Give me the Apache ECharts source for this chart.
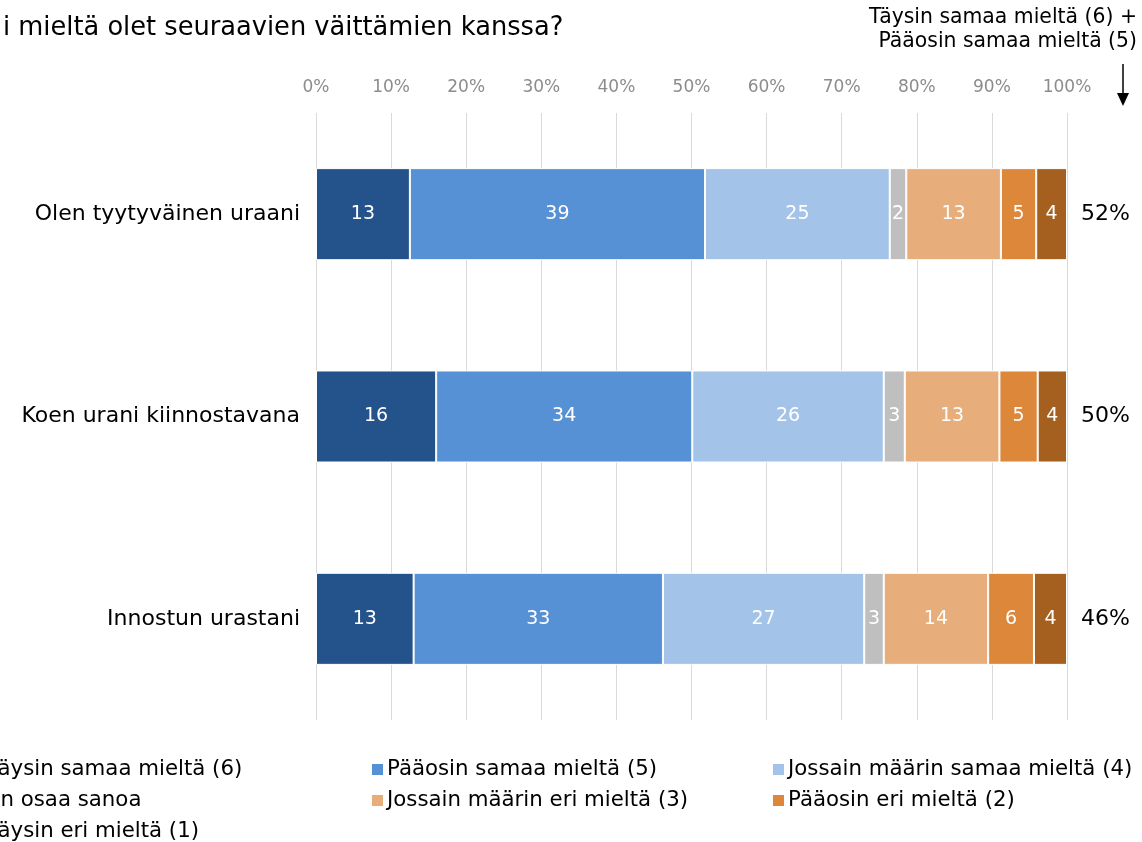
<!DOCTYPE html>
<html>
<head>
<meta charset="utf-8">
<script src="https://cdn.jsdelivr.net/npm/echarts@6/dist/echarts.min.js"></script>
<style>html,body{margin:0;padding:0;background:#fff;}#c{width:1142px;height:842px;}</style>
</head>
<body>
<div id="c"></div>
<script>
const categories = ['Olen tyytyväinen uraani', 'Koen urani kiinnostavana', 'Innostun urastani'];
const seriesNames = ['Täysin samaa mieltä (6)', 'Pääosin samaa mieltä (5)', 'Jossain määrin samaa mieltä (4)', 'En osaa sanoa', 'Jossain määrin eri mieltä (3)', 'Pääosin eri mieltä (2)', 'Täysin eri mieltä (1)'];
const taysinSamaa = [12.5, 16.0, 13.0];
const paaosinSamaa = [39.3, 34.1, 33.2];
const jossainSamaa = [24.6, 25.5, 26.8];
const enOsaa = [2.2, 2.8, 2.6];
const jossainEri = [12.6, 12.6, 13.9];
const paaosinEri = [4.7, 5.1, 6.1];
const taysinEri = [4.1, 3.9, 4.4];
const xTicks = [0, 10, 20, 30, 40, 50, 60, 70, 80, 90, 100];
const colors = ['#24528A', '#5690D5', '#A3C3E8', '#BFBFBF', '#E7AD7A', '#DC8739', '#A55F1E'];
const titleText = 'i mieltä olet seuraavien väittämien kanssa?';
const noteText = 'Täysin samaa mieltä (6) +\nPääosin samaa mieltä (5)';

const allData = [taysinSamaa, paaosinSamaa, jossainSamaa, enOsaa, jossainEri, paaosinEri, taysinEri];
const FONT = 'DejaVu Sans';

const series = allData.map((d, i) => ({
  name: seriesNames[i],
  type: 'bar',
  stack: 'total',
  barWidth: '45.5%',
  data: d,
  itemStyle: { color: colors[i], borderColor: '#ffffff', borderWidth: 1 },
  label: {
    show: true,
    position: 'inside',
    color: '#ffffff',
    fontFamily: FONT,
    fontSize: 19,
    formatter: p => String(Math.round(p.value))
  },
  emphasis: { disabled: true },
  silent: true
}));

// outside labels: sum of the two top categories
series.push({
  name: 'sumLabel',
  type: 'bar',
  stack: 'total',
  data: taysinSamaa.map(() => 0),
  itemStyle: { color: 'transparent' },
  label: {
    show: true,
    position: 'right',
    distance: 14,
    color: '#000000',
    fontFamily: FONT,
    fontSize: 22,
    formatter: p => Math.round(taysinSamaa[p.dataIndex] + paaosinSamaa[p.dataIndex]) + '%'
  },
  silent: true
});

const legendBase = {
  orient: 'vertical',
  itemWidth: 13,
  itemHeight: 13,
  itemGap: 10,
  icon: 'rect',
  top: 759,
  height: 100,
  padding: 0,
  textStyle: { fontFamily: FONT, fontSize: 21.3, color: '#000', lineHeight: 21, padding: [0, 0, 0, -2] },
  selectedMode: false
};

const chart = echarts.init(document.getElementById('c'));
chart.setOption({
  animation: false,
  color: colors,
  title: {
    text: titleText,
    left: -2,
    top: 10,
    textStyle: { fontFamily: FONT, fontSize: 25.7, fontWeight: 'normal', color: '#000' }
  },
  graphic: [
    {
      type: 'text',
      x: 1137, y: 6,
      style: { text: noteText, fontFamily: FONT, fontSize: 20.4, lineHeight: 24, fill: '#000', align: 'right' }
    },
    { type: 'line', shape: { x1: 1123, y1: 64, x2: 1123, y2: 96 }, style: { stroke: '#000', lineWidth: 1.5 } },
    { type: 'polygon', shape: { points: [[1117, 93], [1129, 93], [1123, 106]] }, style: { fill: '#000' } }
  ],
  legend: [
    Object.assign({}, legendBase, { left: -30, data: [seriesNames[0], seriesNames[3], seriesNames[6]] }),
    Object.assign({}, legendBase, { left: 370, data: [seriesNames[1], seriesNames[4]] }),
    Object.assign({}, legendBase, { left: 771, data: [seriesNames[2], seriesNames[5]] })
  ],
  grid: { left: 316, right: 75, top: 113, bottom: 122, containLabel: false },
  xAxis: {
    type: 'value',
    position: 'top',
    min: 0,
    max: 100,
    interval: 10,
    axisLine: { show: false },
    axisTick: { show: false },
    axisLabel: { color: '#8C8C8C', fontFamily: FONT, fontSize: 17, margin: 17, formatter: v => xTicks.includes(v) ? v + '%' : '' },
    splitLine: { show: true, lineStyle: { color: '#D9D9D9', width: 1 } }
  },
  yAxis: {
    type: 'category',
    inverse: true,
    data: categories,
    axisLine: { show: false },
    axisTick: { show: false },
    axisLabel: { color: '#000', fontFamily: FONT, fontSize: 22, margin: 16 }
  },
  series: series
});
</script>
</body>
</html>
